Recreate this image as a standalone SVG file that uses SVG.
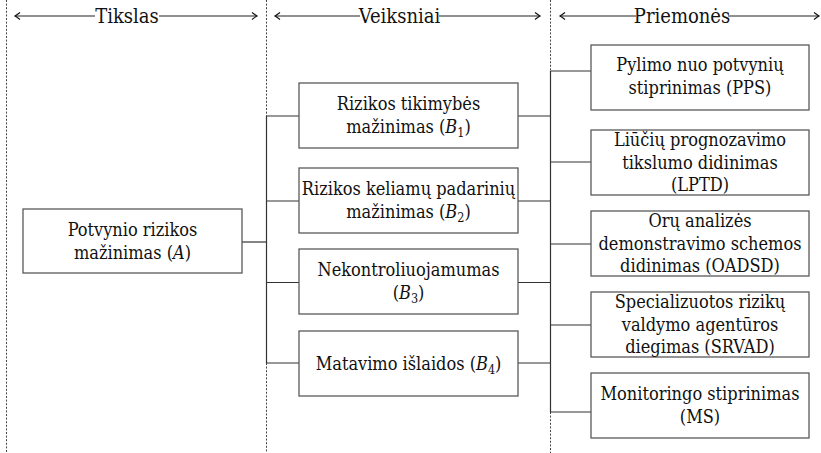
<svg xmlns="http://www.w3.org/2000/svg" width="821" height="453" viewBox="0 0 821 453">
<defs>
<marker id="ah" markerUnits="userSpaceOnUse" markerWidth="10" markerHeight="10" refX="0" refY="0" viewBox="-6 -5 8 10" orient="auto">
<path d="M -5 -3.4 Q -1.5 -0.8 0 0 Q -1.5 0.8 -5 3.4" fill="none" stroke="#111" stroke-width="1.2"/>
</marker>
<style>
.t{font-family:"DejaVu Serif Condensed","DejaVu Serif",serif;font-stretch:condensed;font-size:18px;fill:#111;text-anchor:middle}
.h{font-family:"DejaVu Serif Condensed","DejaVu Serif",serif;font-stretch:condensed;font-size:20px;fill:#111;text-anchor:middle}
.box{fill:#fff;stroke:#5a5a5a;stroke-width:1.3}
.c{fill:none;stroke:#333;stroke-width:1.2}
.d{fill:none;stroke:#444;stroke-width:1;stroke-dasharray:2 1.6}
.a{fill:none;stroke:#222;stroke-width:1.1;marker-end:url(#ah)}
.i{font-style:italic}
.s{font-size:12.5px}
</style>
</defs>
<g id="guides">
<path class="d" d="M6.5 0V453"/>
<path class="d" d="M266.5 0V116M266.5 363V453"/>
<path class="d" d="M550.5 0V71M550.5 412V453"/>
</g>
<g id="headers">
<path class="a" d="M95 16H15"/>
<path class="a" d="M159 16H257"/>
<text class="h" x="127" y="22.5">Tikslas</text>
<path class="a" d="M360 16H275"/>
<path class="a" d="M439 16H540"/>
<text class="h" x="399.5" y="22.5">Veiksniai</text>
<path class="a" d="M636 16H560"/>
<path class="a" d="M728 16H819"/>
<text class="h" x="682" y="22.5">Priemonės</text>
</g>
<g id="connectors">
<path class="c" d="M242 242H266.5"/>
<path class="c" d="M266.5 116V363M266.5 116H299M266.5 201H299M266.5 282.5H299M266.5 363H299"/>
<path class="c" d="M518 116H550.5M518 201H550.5M518 282.5H550.5M518 363H550.5"/>
<path class="c" d="M550.5 71V412M550.5 71H591M550.5 162H591M550.5 244H591M550.5 325H591M550.5 412H591"/>
</g>
<g id="A">
<rect class="box" x="23" y="209" width="219" height="64"/>
<text class="t" x="132.5" y="236">Potvynio rizikos</text>
<text class="t" x="132.5" y="258.5">mažinimas (<tspan class="i">A</tspan>)</text>
</g>
<g id="B1">
<rect class="box" x="299" y="83" width="219" height="65"/>
<text class="t" x="408.5" y="110">Rizikos tikimybės</text>
<text class="t" x="408.5" y="132.5">mažinimas (<tspan class="i">B</tspan><tspan class="s" dy="4">1</tspan><tspan dy="-4">)</tspan></text>
</g>
<g id="B2">
<rect class="box" x="299" y="168" width="219" height="65"/>
<text class="t" x="408.5" y="195">Rizikos keliamų padarinių</text>
<text class="t" x="408.5" y="217.5">mažinimas (<tspan class="i">B</tspan><tspan class="s" dy="4">2</tspan><tspan dy="-4">)</tspan></text>
</g>
<g id="B3">
<rect class="box" x="299" y="249" width="219" height="65"/>
<text class="t" x="408.5" y="276">Nekontroliuojamumas</text>
<text class="t" x="408.5" y="298.5">(<tspan class="i">B</tspan><tspan class="s" dy="4">3</tspan><tspan dy="-4">)</tspan></text>
</g>
<g id="B4">
<rect class="box" x="299" y="331" width="219" height="65"/>
<text class="t" x="408.5" y="369.5">Matavimo išlaidos (<tspan class="i">B</tspan><tspan class="s" dy="4">4</tspan><tspan dy="-4">)</tspan></text>
</g>
<g id="PPS">
<rect class="box" x="591" y="45" width="218" height="65"/>
<text class="t" x="700" y="71">Pylimo nuo potvynių</text>
<text class="t" x="700" y="93.5">stiprinimas (PPS)</text>
</g>
<g id="LPTD">
<rect class="box" x="591" y="130" width="218" height="65"/>
<text class="t" x="700" y="146">Liūčių prognozavimo</text>
<text class="t" x="700" y="168.5">tikslumo didinimas</text>
<text class="t" x="700" y="191">(LPTD)</text>
</g>
<g id="OADSD">
<rect class="box" x="591" y="211" width="218" height="65"/>
<text class="t" x="700" y="227">Orų analizės</text>
<text class="t" x="700" y="249.5">demonstravimo schemos</text>
<text class="t" x="700" y="272">didinimas (OADSD)</text>
</g>
<g id="SRVAD">
<rect class="box" x="591" y="292" width="218" height="65"/>
<text class="t" x="700" y="308">Specializuotos rizikų</text>
<text class="t" x="700" y="330.5">valdymo agentūros</text>
<text class="t" x="700" y="353">diegimas (SRVAD)</text>
</g>
<g id="MS">
<rect class="box" x="591" y="373" width="218" height="65"/>
<text class="t" x="700" y="400">Monitoringo stiprinimas</text>
<text class="t" x="700" y="422.5">(MS)</text>
</g>
</svg>
